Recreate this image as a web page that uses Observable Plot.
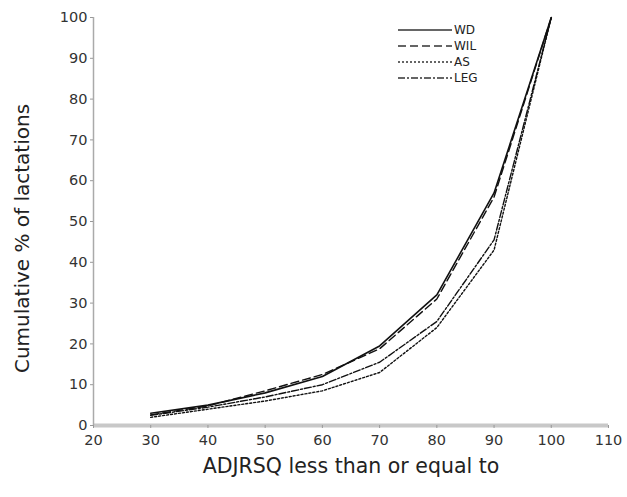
<!DOCTYPE html>
<html>
<head>
<meta charset="utf-8">
<script src="https://cdn.jsdelivr.net/npm/d3@7"></script>
<script src="https://cdn.jsdelivr.net/npm/@observablehq/plot@0.6"></script>
<style>
  body { margin: 0; background: #fff; }
  #wrap { position: relative; width: 627px; height: 497px; }
  #legend { position: absolute; left: 396px; top: 22px; }
</style>
</head>
<body>
<div id="wrap"><div id="chart"></div><div id="legend"></div></div>
<script>
const xs = [30, 40, 50, 60, 70, 80, 90, 100];
const seriesNames = ["WD", "WIL", "AS", "LEG"];
const WD  = [3.0, 5.0, 8.0, 12.0, 19.5, 32.0, 57.0, 100];
const WIL = [2.6, 4.8, 8.5, 12.5, 18.8, 31.0, 56.0, 100];
const AS  = [2.0, 4.0, 6.0, 8.5, 13.0, 24.0, 43.0, 100];
const LEG = [2.5, 4.5, 7.0, 10.0, 15.5, 25.5, 45.5, 100];
const xTicks = [20, 30, 40, 50, 60, 70, 80, 90, 100, 110];
const yTicks = [0, 10, 20, 30, 40, 50, 60, 70, 80, 90, 100];
const dashes = {WD: null, WIL: "8,4", AS: "2,2", LEG: "7,2,2,2"};
const xLabel = "ADJRSQ less than or equal to";
const yLabel = "Cumulative % of lactations";

const values = {WD, WIL, AS, LEG};
const data = seriesNames.flatMap(s => xs.map((x, i) => ({series: s, x, y: values[s][i]})));

const lineMarks = seriesNames.map(s => Plot.line(data.filter(d => d.series === s), {
  x: "x", y: "y", stroke: "#111", strokeWidth: s === "WD" ? 1.6 : 1.4,
  strokeDasharray: dashes[s]
}));

const chart = Plot.plot({
  width: 627, height: 497,
  marginLeft: 93, marginRight: 19, marginTop: 17, marginBottom: 72,
  style: {fontFamily: "DejaVu Sans, Verdana, sans-serif", fontSize: "14.5px", color: "#333", background: "#fff"},
  x: {domain: [20, 110]},
  y: {domain: [0, 100]},
  marks: [
    Plot.ruleY([0], {stroke: "#c8c8c8", strokeWidth: 4}),
    Plot.ruleX([20], {stroke: "#aaa", strokeWidth: 1.5}),
    Plot.axisX({ticks: xTicks, tickSize: 3, tickPadding: 6, stroke: "#999", label: null, fill: "#333"}),
    Plot.axisY({ticks: yTicks, tickSize: 3, tickPadding: 3, stroke: "#999", label: null, fill: "#333"}),
    ...lineMarks,
    Plot.text([xLabel], {frameAnchor: "bottom", dy: 47, fontSize: 20.5, fill: "#222"}),
    Plot.text([yLabel], {frameAnchor: "left", textAnchor: "middle", rotate: -90, dx: -71, dy: 17, fontSize: 20, fill: "#222"})
  ]
});
document.getElementById("chart").appendChild(chart);

// Legend
const lg = d3.select("#legend").append("svg").attr("width", 100).attr("height", 70)
  .style("font-family", "DejaVu Sans, Verdana, sans-serif").style("font-size", "12px");
seriesNames.forEach((s, i) => {
  const g = lg.append("g").attr("transform", `translate(0,${8 + i * 16})`);
  g.append("line").attr("x1", 2).attr("x2", 56).attr("y1", 0).attr("y2", 0)
    .attr("stroke", "#333").attr("stroke-width", 1.4).attr("stroke-dasharray", dashes[s]);
  g.append("text").attr("x", 58).attr("y", 0).attr("dy", "0.35em").attr("fill", "#222").text(s);
});
</script>
</body>
</html>
